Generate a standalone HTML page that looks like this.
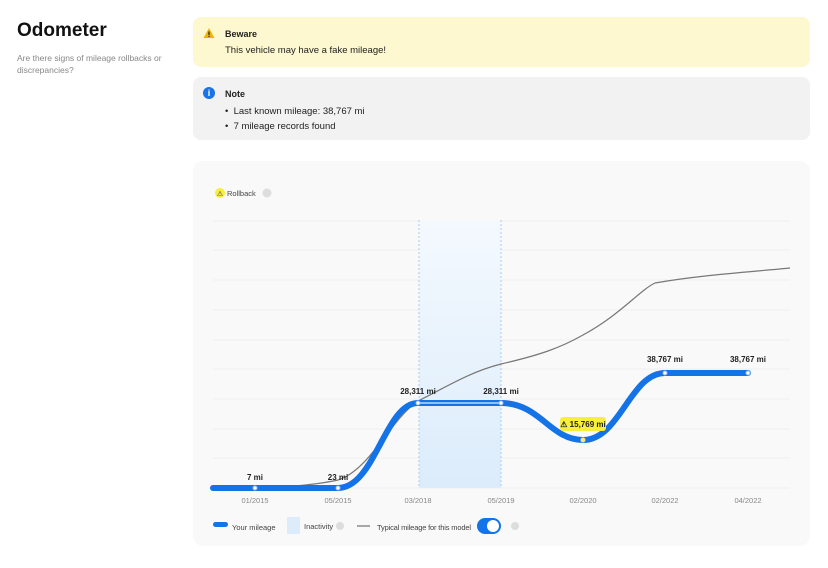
<!DOCTYPE html><html><head><meta charset="utf-8"><style>
body{margin:0;width:828px;height:568px;background:#fff;font-family:"Liberation Sans",sans-serif;position:relative;overflow:hidden}
.a{position:absolute}
</style></head><body>
<div class="a" style="left:17px;top:20px;font-size:19px;font-weight:bold;color:#111">Odometer</div>
<div class="a" style="left:17px;top:52px;width:160px;font-size:8.5px;line-height:12px;color:#888">Are there signs of mileage rollbacks or discrepancies?</div>
<div class="a" style="left:193px;top:17px;width:617px;height:50px;background:#fdf8cf;border-radius:8px"></div>
<svg class="a" style="left:203px;top:27px" width="12" height="12" viewBox="0 0 12 12"><path d="M6 1L11.5 11H0.5Z" fill="#f0b400"/><rect x="5.4" y="4.5" width="1.2" height="3.5" fill="#222"/><rect x="5.4" y="8.8" width="1.2" height="1.2" fill="#222"/></svg>
<div class="a" style="left:225px;top:29px;font-size:9px;font-weight:bold;color:#222">Beware</div>
<div class="a" style="left:225px;top:45px;font-size:9.5px;color:#222">This vehicle may have a fake mileage!</div>
<div class="a" style="left:193px;top:77px;width:617px;height:63px;background:#f2f2f2;border-radius:8px"></div>
<div class="a" style="left:203px;top:87px;width:12px;height:12px;border-radius:50%;background:#1a73e8;color:#fff;font-size:9px;font-weight:bold;text-align:center;line-height:12px">i</div>
<div class="a" style="left:225px;top:89px;font-size:9px;font-weight:bold;color:#222">Note</div>
<div class="a" style="left:225px;top:104px;font-size:9.5px;color:#222;line-height:15px">• &nbsp;Last known mileage: 38,767 mi<br>• &nbsp;7 mileage records found</div>
<div class="a" style="left:193px;top:161px;width:617px;height:385px;background:#f9f9f9;border-radius:10px"></div>
<svg class="a" style="left:0;top:0" width="828" height="568">
<g stroke="#f0f0f0" stroke-width="1">
<line x1="213" x2="790" y1="221" y2="221"/><line x1="213" x2="790" y1="250" y2="250"/><line x1="213" x2="790" y1="280" y2="280"/><line x1="213" x2="790" y1="310" y2="310"/><line x1="213" x2="790" y1="340" y2="340"/><line x1="213" x2="790" y1="369" y2="369"/><line x1="213" x2="790" y1="399" y2="399"/><line x1="213" x2="790" y1="429" y2="429"/><line x1="213" x2="790" y1="458" y2="458"/><line x1="213" x2="790" y1="488" y2="488"/>
</g>
<defs><linearGradient id="g" x1="0" y1="0" x2="0" y2="1"><stop offset="0" stop-color="#f4f9fe"/><stop offset="1" stop-color="#dcecfb"/></linearGradient></defs>
<rect x="419" y="220" width="82" height="268" fill="url(#g)"/>
<line x1="419" x2="419" y1="220" y2="488" stroke="#a9cdef" stroke-dasharray="2,2"/>
<line x1="501" x2="501" y1="220" y2="488" stroke="#a9cdef" stroke-dasharray="2,2"/>
<path d="M213 490 L255 489 C290 487 320 484 338 480 C370 470 390 420 418 401 C450 385 470 372 501 364 C540 355 560 348 583 335 C620 315 640 290 655 283 C700 275 750 272 790 268" fill="none" stroke="#777" stroke-width="1.2"/>
<path d="M213 488 L338 488 C375 488 385 403 418 403 L501 403 C540 403 550 440 583 440 C620 440 630 373 665 373 L748 373" fill="none" stroke="#1473e6" stroke-width="6" stroke-linecap="round"/>
<line x1="418" x2="501" y1="403" y2="403" stroke="#8cc2f5" stroke-width="2"/>
<g fill="#fff" stroke="#9bbfe6" stroke-width="1"><circle cx="255" cy="488" r="2"/><circle cx="338" cy="488" r="2"/><circle cx="418" cy="403" r="2"/><circle cx="501" cy="403" r="2"/><circle cx="665" cy="373" r="2"/><circle cx="748" cy="373" r="2"/></g>
<circle cx="583" cy="440" r="2.5" fill="#f5e97a"/>
<g font-size="8" font-weight="bold" fill="#222" text-anchor="middle">
<text x="255" y="480">7 mi</text><text x="338" y="480">23 mi</text><text x="418" y="394">28,311 mi</text><text x="501" y="394">28,311 mi</text><text x="665" y="362">38,767 mi</text><text x="748" y="362">38,767 mi</text></g>
<rect x="560" y="417" width="46" height="14" rx="3" fill="#f8ee3c"/>
<text x="583" y="427" font-size="8" font-weight="bold" fill="#222" text-anchor="middle">⚠ 15,769 mi</text>
<g font-size="7.5" fill="#888" text-anchor="middle"><text x="255" y="503">01/2015</text><text x="338" y="503">05/2015</text><text x="418" y="503">03/2018</text><text x="501" y="503">05/2019</text><text x="583" y="503">02/2020</text><text x="665" y="503">02/2022</text><text x="748" y="503">04/2022</text></g>
<rect x="213" y="522" width="15" height="5" rx="2.5" fill="#1473e6"/>
<text x="232" y="530" font-size="7.5" fill="#444">Your mileage</text>
<rect x="287" y="517" width="13" height="17" fill="#dcecfb"/>
<text x="304" y="529" font-size="7.5" fill="#444">Inactivity</text>
<circle cx="340" cy="526" r="4" fill="#ddd"/>
<line x1="357" x2="370" y1="526" y2="526" stroke="#555"/>
<text x="377" y="530" font-size="7.5" fill="#444" textLength="94">Typical mileage for this model</text>
<rect x="477" y="518" width="24" height="16" rx="8" fill="#1473e6"/><circle cx="493" cy="526" r="6" fill="#fff"/>
<circle cx="515" cy="526" r="4" fill="#ddd"/>
<circle cx="220" cy="193" r="5" fill="#f8ee3c"/>
<text x="220" y="196" font-size="7" text-anchor="middle" fill="#333">⚠</text>
<text x="227" y="196" font-size="7.5" fill="#444">Rollback</text>
<circle cx="267" cy="193" r="4.5" fill="#ddd"/>
</svg>
</body></html>
